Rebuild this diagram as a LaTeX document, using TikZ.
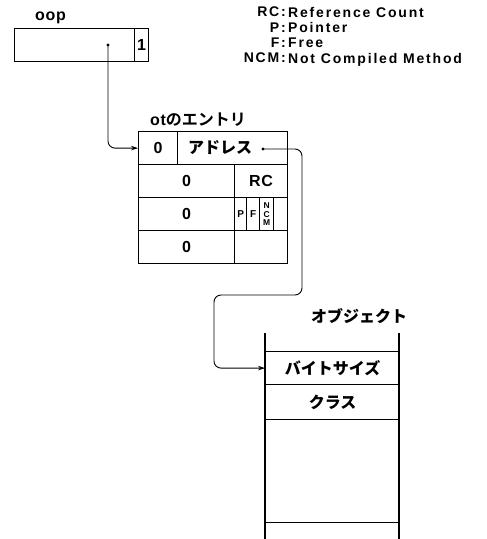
\documentclass[tikz,border=0pt]{standalone}
\usepackage{fontspec}
\setmainfont{Liberation Sans}
\newfontfamily\txtfont{Liberation Sans}[LetterSpace=4]
\newfontfamily\legfont{Liberation Sans}[LetterSpace=13]
\newfontfamily\jpfont{Noto Sans CJK JP Black}
\usetikzlibrary{arrows.meta, positioning, calc}
\newcommand\labfont{\txtfont\bfseries\fontsize{16}{16}\selectfont}
\newcommand\keyfont{\legfont\bfseries\fontsize{14}{15.3}\selectfont}
\newcommand\jpsize{\jpfont\fontsize{16}{18}\selectfont}

\begin{document}
\begin{tikzpicture}[
  x=1pt, y=-1pt,
  >={Stealth[length=7pt, width=4.5pt]},
  cell/.style={draw, line width=1.2pt, inner sep=0pt, anchor=north west,
               minimum height=33pt, font=\labfont},
  jp/.style={font=\jpsize},
  bit/.style={font=\txtfont\bfseries\fontsize{10}{10}\selectfont, inner sep=0pt},
  tinybit/.style={font=\txtfont\bfseries\fontsize{8.5}{8.5}\selectfont, inner sep=0pt},
  lbl/.style={font=\labfont, inner sep=0pt},
  key/.style={font=\keyfont, inner sep=0pt},
  arr/.style={->, line width=0.9pt, rounded corners=7pt},
  ptr/.style={circle, fill, inner sep=0pt, minimum size=3.4pt}
]
\useasboundingbox (0,0) rectangle (487,539);

%%=============================================================================
%% oop
%%=============================================================================
\node[lbl, anchor=base west] (ooplbl) at (35,20) {oop};
\node[cell, minimum width=120pt] (oopbox) at (14,28) {};
\node[cell, minimum width=14pt] (oopone) at (134,28) {1};
\node[ptr] (oopptr) at (108,45) {};

%%=============================================================================
%% Legend
%%=============================================================================
\node[key, anchor=north east, align=right] (legkeys) at (286,7)
  {RC:\\P:\\F:\\NCM:};
\node[key, anchor=north west, align=left] (legvals) at (288,7)
  {Reference Count\\Pointer\\Free\\Not Compiled Method};

%%=============================================================================
%% ot entry
%%=============================================================================
\node[lbl, anchor=base west] (otlbl) at (150,125) {ot{\jpsize のエントリ}};

% row 1
\node[cell, minimum width=39pt] (flag0) at (138,131) {0};
\node[cell, minimum width=110pt] (addr) at (177,131) {};
\node[jp] (addrtxt) at (220,147.5) {アドレス};
\node[ptr] (addrptr) at (263,149) {};

% row 2
\node[cell, minimum width=96pt] (word1) at (138,164) {0};
\node[cell, minimum width=53pt] (rc) at (234,164) {RC};

% row 3
\node[cell, minimum width=96pt] (word2) at (138,197) {0};
\node[cell, minimum width=12pt] (pbit) at (234,197) {};
\node[cell, minimum width=13pt] (fbit) at (246,197) {};
\node[cell, minimum width=14pt] (ncmbit) at (259,197) {};
\node[cell, minimum width=14pt] (rest) at (273,197) {};
\node[bit] (ptxt) at (pbit) {P};
\node[bit] (ftxt) at (fbit) {F};
\node[tinybit] (ncmn) at ($(ncmbit.center)+(0,-8.6)$) {N};
\node[tinybit] (ncmc) at (ncmbit.center) {C};
\node[tinybit] (ncmm) at ($(ncmbit.center)+(0,8.6)$) {M};

% row 4
\node[cell, minimum width=96pt] (word3) at (138,230) {0};
\node[cell, minimum width=53pt] (spare) at (234,230) {};

%%=============================================================================
%% Object
%%=============================================================================
\node[jp] (objlbl) at (359,316) {オブジェクト};

\coordinate (objtl) at (265,333);
\coordinate (objbl) at (265,539);
\coordinate (objtr) at (399,333);
\coordinate (objbr) at (399,539);
\draw[line width=1.7pt] (objtl) -- (objbl);
\draw[line width=1.5pt] (objtr) -- (objbr);

\node[cell, jp, minimum width=134pt] (size) at (265,351) {バイトサイズ};
\node[cell, jp, minimum width=134pt, minimum height=35pt] (cls) at (265,384) {クラス};
\node[cell, minimum width=134pt, minimum height=103pt] (body) at (265,419) {};

%% Connectors
\coordinate (bendA) at (302,295);
\coordinate (bendB) at (214,295);
\draw[arr] (oopptr.center) |- (flag0.west);
\draw[arr] (addrptr.center) -| (bendA) -- (bendB) |- (size.west);

\end{tikzpicture}
\end{document}
